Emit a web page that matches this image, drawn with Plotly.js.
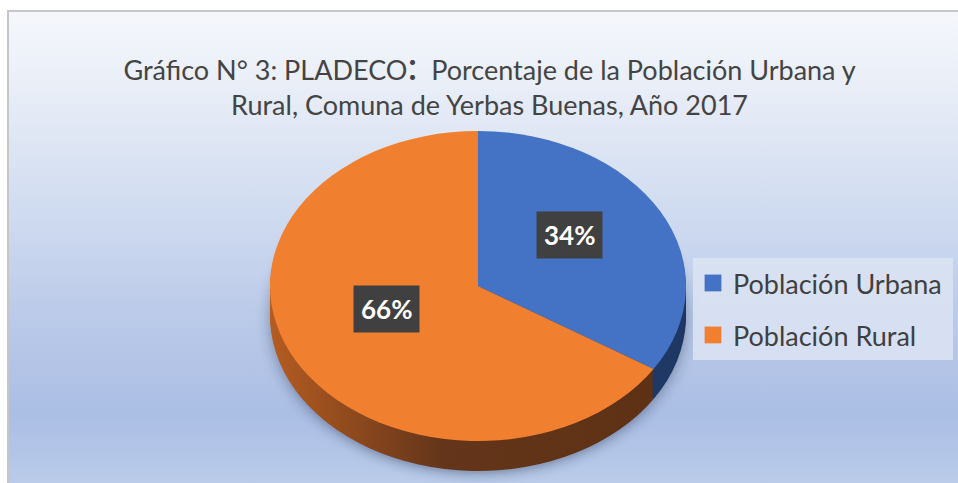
<!DOCTYPE html>
<html>
<head>
<meta charset="utf-8">
<script src="https://cdn.plot.ly/plotly-3.0.1.min.js"></script>
<style>
  html, body { margin: 0; padding: 0; background: #ffffff; width: 958px; height: 483px; overflow: hidden; }
  #frame {
    position: absolute; left: 7px; top: 10px; width: 960px; height: 480px;
    border-left: 2px solid #c6c6c6; border-top: 2px solid #c6c6c6;
    background: linear-gradient(to bottom, #f5f7fc 0%, #e5ebf6 20%, #cfdbf0 42%, #bccbe9 62%, #abbee4 84%, #bccdea 100%);
  }
  #chart { position: absolute; left: 0; top: 0; width: 958px; height: 483px; }
</style>
</head>
<body>
<div id="frame"></div>
<div id="chart"></div>
<script>
// ---- data ----
var labels = ['Población Urbana', 'Población Rural'];
var values = [34, 66];
var topColors = ['#4472c4', '#f0802f'];
var sideColors = ['#1f3864', '#6a3616'];
var titleText = 'Gráfico N° 3: PLADECO<span style="font-size:40px">:</span>  Porcentaje de la Población Urbana y<br>Rural, Comuna de Yerbas Buenas, Año 2017';

// ---- geometry ----
var W = 958, H = 483;
var CX = 478, CY = 286, RX = 208, RY = 155, LCY = 272;
var S = RY / RX;
var depthOffsets = [30, 27, 24, 21, 18, 15, 12, 9, 6, 3];

var dom = { x: [(CX - RX) / W, (CX + RX) / W], y: [0, 1] };
var data = [];
depthOffsets.forEach(function () {
  data.push({
    type: 'pie', labels: labels, values: values, sort: false, direction: 'clockwise', rotation: 0,
    textinfo: 'none', hoverinfo: 'skip', showlegend: false, domain: dom,
    marker: { colors: sideColors, line: { width: 0 } }
  });
});
data.push({
  type: 'pie', labels: labels, values: values, sort: false, direction: 'clockwise', rotation: 0,
  textinfo: 'none', hoverinfo: 'skip', domain: dom,
  marker: { colors: topColors, line: { width: 0 } }
});

var total = values.reduce(function (a, b) { return a + b; }, 0);
var annotations = [];
var cum = 0;
values.forEach(function (v) {
  var mid = (cum + v / 2) / total * 2 * Math.PI;
  cum += v;
  var px = CX + Math.sin(mid) * RX * 0.5;
  var py = LCY - Math.cos(mid) * RY * 0.5;
  annotations.push({
    xref: 'paper', yref: 'paper', x: px / W, y: 1 - py / H, showarrow: false,
    text: Math.round(v / total * 100) + '%',
    font: { family: 'Lato, sans-serif', size: 26, color: '#ffffff', weight: 700 },
    bgcolor: '#404040', borderpad: 7, xanchor: 'center', yanchor: 'middle'
  });
});

var layout = {
  width: W, height: H,
  margin: { l: 0, r: 0, t: 0, b: 0 },
  paper_bgcolor: 'rgba(0,0,0,0)', plot_bgcolor: 'rgba(0,0,0,0)',
  title: {
    text: titleText, x: 0.511, xanchor: 'center', y: 1 - 80 / H, yanchor: 'middle', yref: 'container',
    font: { family: 'Lato, sans-serif', size: 27, color: '#444444' }
  },
  showlegend: true,
  legend: {
    x: 693 / W, y: 1 - 258 / H, xanchor: 'left', yanchor: 'top',
    bgcolor: 'rgba(220,228,243,0.85)', borderwidth: 0,
    font: { family: 'Lato, sans-serif', size: 27, color: '#404040' }
  },
  annotations: annotations
};

var gd = document.getElementById('chart');
Plotly.newPlot(gd, data, layout, { staticPlot: true, displayModeBar: false }).then(function () {
  var svg = gd.querySelector('svg.main-svg');
  var ns = 'http://www.w3.org/2000/svg';
  var defs = svg.querySelector('defs') || svg.insertBefore(document.createElementNS(ns, 'defs'), svg.firstChild);
  defs.insertAdjacentHTML('beforeend',
    '<filter id="pieShadow" x="-20%" y="-20%" width="140%" height="150%">' +
    '<feDropShadow dx="0" dy="4" stdDeviation="7" flood-color="#203050" flood-opacity="0.45"/></filter>' +
    '<linearGradient id="sideGrad" x1="0" y1="0" x2="1" y2="0">' +
    '<stop offset="0" stop-color="#b45c21"/><stop offset="0.45" stop-color="#64351a"/>' +
    '<stop offset="1" stop-color="#5e3114"/></linearGradient>');
  var pl = gd.querySelector('.pielayer');
  pl.setAttribute('transform', 'translate(0,' + (CY - S * (H / 2)) + ') scale(1,' + S + ')');
  var traces = pl.querySelectorAll('g.trace');
  depthOffsets.forEach(function (d, i) {
    var t = traces[i];
    var old = t.getAttribute('transform') || '';
    t.setAttribute('transform', 'translate(0,' + (d / S) + ') ' + old);
    if (i === 0) t.setAttribute('filter', 'url(#pieShadow)');
    var paths = t.querySelectorAll('path.surface');
    if (paths[1]) paths[1].style.fill = 'url(#sideGrad)';
  });

  // legend spacing to match reference box
  var leg = gd.querySelector('.legend');
  var sb = leg.querySelector('.scrollbox');
  if (sb) sb.removeAttribute('clip-path');
  var bg = leg.querySelector('rect.bg');
  bg.setAttribute('width', 260);
  bg.setAttribute('height', 102);
  var targets = [283, 335];
  var items = leg.querySelectorAll('g.traces');
  items.forEach(function (it, k) {
    var txt = it.querySelector('text.legendtext');
    var r = txt.getBoundingClientRect();
    var c = r.top + r.height / 2;
    var m = /translate\(\s*([-\d.]+)[ ,]+([-\d.]+)\s*\)/.exec(it.getAttribute('transform'));
    var tx = m ? parseFloat(m[1]) : 0, ty = m ? parseFloat(m[2]) : 0;
    it.setAttribute('transform', 'translate(' + tx + ',' + (ty + targets[k] - c) + ')');
    var sym = it.querySelector('.legendpoints path');
    if (sym) {
      var st = sym.getAttribute('transform') || '';
      sym.setAttribute('transform', st + ' scale(1.4)');
    }
  });
});
</script>
</body>
</html>
